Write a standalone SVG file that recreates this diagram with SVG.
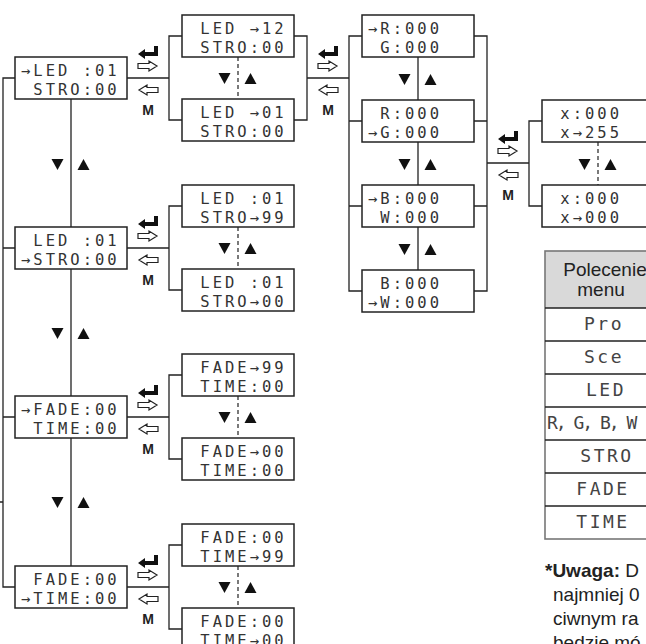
<svg xmlns="http://www.w3.org/2000/svg" xmlns:xlink="http://www.w3.org/1999/xlink" width="646" height="644" viewBox="0 0 646 644">
<style>
.box{fill:#fff;stroke:#222;stroke-width:1.5}
.ln{stroke:#222;stroke-width:1.3;fill:none}
.dash{stroke:#333;stroke-width:1.3;stroke-dasharray:4 3;fill:none}
.lcd{font-family:"DejaVu Sans Mono",monospace;font-size:15.5px;letter-spacing:3px;fill:#333;white-space:pre}
.m{font-family:"Liberation Sans",Arial,sans-serif;font-weight:bold;font-size:14px;text-anchor:middle;fill:#222}
.hol{fill:#fff;stroke:#222;stroke-width:1.2}
.tri{fill:#111}
.th{font-family:"Liberation Sans",Arial,sans-serif;font-size:19px;text-anchor:middle;fill:#222}
.tl{font-family:"DejaVu Sans Mono",monospace;font-size:18px;letter-spacing:2.5px;text-anchor:middle;fill:#444}
.note{font-family:"Liberation Sans",Arial,sans-serif;font-size:19px;fill:#222}
</style>
<defs>
<g id="icons">
<path d="M6,-32 H10 V-22 H-3 V-19 L-10,-24 L-3,-29 V-26 H6 Z" fill="#111"/>
<path class="hol" d="M-10,-14.5 H1 V-17 L9,-12 L1,-7 V-9.5 H-10 Z"/>
<path class="hol" d="M10,9.5 H-1 V7 L-9,12 L-1,17 V14.5 H10 Z"/>
<text class="m" x="0" y="37">M</text>
</g>
<g id="ud">
<path class="tri" d="M-19.5,-5 H-7.5 L-13.5,6 Z"/>
<path class="tri" d="M6.5,6 H18.5 L12.5,-5 Z"/>
</g>
</defs>

<g id="connectors">
<path class="ln" d="M15,78 H3 V587 H15 M3,248 H15 M3,417 H15 M-2,502 H3"/>
<path class="ln" d="M71,99 V227 M71,269 V396 M71,438 V566"/>
<path class="ln" d="M127,78 H169 M182,36 H169 V120 H182"/>
<path class="ln" d="M127,248 H169 M182,206 H169 V290 H182"/>
<path class="ln" d="M127,417 H169 M182,375 H169 V459 H182"/>
<path class="ln" d="M127,587 H169 M182,545 H169 V629 H182"/>
<path class="dash" d="M238,57 V99 M238,227 V269 M238,396 V438 M238,566 V608"/>
<path class="ln" d="M294,36 H307 V120 H294 M307,78 H349 M362,36 H349 V291 H362 M349,121 H362 M349,206 H362"/>
<path class="ln" d="M418,57 V100 M418,142 V185 M418,227 V270"/>
<path class="ln" d="M474,36 H487 V291 H474 M474,121 H487 M474,206 H487 M487,163 H529 M542,121 H529 V206 H542"/>
<path class="dash" d="M598,142 V185"/>
<use href="#icons" x="148" y="78"/>
<use href="#icons" x="148" y="248"/>
<use href="#icons" x="148" y="417"/>
<use href="#icons" x="148" y="587"/>
<use href="#icons" x="328" y="78"/>
<use href="#icons" x="508" y="163"/>
<use href="#ud" x="71" y="164"/>
<use href="#ud" x="71" y="333"/>
<use href="#ud" x="71" y="502"/>
<use href="#ud" x="238" y="78"/>
<use href="#ud" x="238" y="248"/>
<use href="#ud" x="238" y="417"/>
<use href="#ud" x="238" y="587"/>
<use href="#ud" x="418" y="79"/>
<use href="#ud" x="418" y="164"/>
<use href="#ud" x="418" y="249"/>
<use href="#ud" x="598" y="164"/>
</g>

<g id="led-main"><rect class="box" x="15" y="57" width="112" height="42"/><text class="lcd" x="21" y="76" xml:space="preserve">→LED :01</text><text class="lcd" x="21" y="94.5" xml:space="preserve"> STRO:00</text></g>
<g id="stro-main"><rect class="box" x="15" y="227" width="112" height="42"/><text class="lcd" x="21" y="246" xml:space="preserve"> LED :01</text><text class="lcd" x="21" y="264.5" xml:space="preserve">→STRO:00</text></g>
<g id="fade-main"><rect class="box" x="15" y="396" width="112" height="42"/><text class="lcd" x="21" y="415" xml:space="preserve">→FADE:00</text><text class="lcd" x="21" y="433.5" xml:space="preserve"> TIME:00</text></g>
<g id="time-main"><rect class="box" x="15" y="566" width="112" height="42"/><text class="lcd" x="21" y="585" xml:space="preserve"> FADE:00</text><text class="lcd" x="21" y="603.5" xml:space="preserve">→TIME:00</text></g>

<g id="led-12"><rect class="box" x="182" y="15" width="112" height="42"/><text class="lcd" x="188" y="34" xml:space="preserve"> LED →12</text><text class="lcd" x="188" y="52.5" xml:space="preserve"> STRO:00</text></g>
<g id="led-01"><rect class="box" x="182" y="99" width="112" height="42"/><text class="lcd" x="188" y="118" xml:space="preserve"> LED →01</text><text class="lcd" x="188" y="136.5" xml:space="preserve"> STRO:00</text></g>
<g id="stro-99"><rect class="box" x="182" y="185" width="112" height="42"/><text class="lcd" x="188" y="204" xml:space="preserve"> LED :01</text><text class="lcd" x="188" y="222.5" xml:space="preserve"> STRO→99</text></g>
<g id="stro-00"><rect class="box" x="182" y="269" width="112" height="42"/><text class="lcd" x="188" y="288" xml:space="preserve"> LED :01</text><text class="lcd" x="188" y="306.5" xml:space="preserve"> STRO→00</text></g>
<g id="fade-99"><rect class="box" x="182" y="354" width="112" height="42"/><text class="lcd" x="188" y="373" xml:space="preserve"> FADE→99</text><text class="lcd" x="188" y="391.5" xml:space="preserve"> TIME:00</text></g>
<g id="fade-00"><rect class="box" x="182" y="438" width="112" height="42"/><text class="lcd" x="188" y="457" xml:space="preserve"> FADE→00</text><text class="lcd" x="188" y="475.5" xml:space="preserve"> TIME:00</text></g>
<g id="time-99"><rect class="box" x="182" y="524" width="112" height="42"/><text class="lcd" x="188" y="543" xml:space="preserve"> FADE:00</text><text class="lcd" x="188" y="561.5" xml:space="preserve"> TIME→99</text></g>
<g id="time-00"><rect class="box" x="182" y="608" width="112" height="42"/><text class="lcd" x="188" y="627" xml:space="preserve"> FADE:00</text><text class="lcd" x="188" y="645.5" xml:space="preserve"> TIME→00</text></g>

<g id="r"><rect class="box" x="362" y="15" width="112" height="42"/><text class="lcd" x="368" y="34" xml:space="preserve">→R:000</text><text class="lcd" x="368" y="52.5" xml:space="preserve"> G:000</text></g>
<g id="g"><rect class="box" x="362" y="100" width="112" height="42"/><text class="lcd" x="368" y="119" xml:space="preserve"> R:000</text><text class="lcd" x="368" y="137.5" xml:space="preserve">→G:000</text></g>
<g id="b"><rect class="box" x="362" y="185" width="112" height="42"/><text class="lcd" x="368" y="204" xml:space="preserve">→B:000</text><text class="lcd" x="368" y="222.5" xml:space="preserve"> W:000</text></g>
<g id="w"><rect class="box" x="362" y="270" width="112" height="42"/><text class="lcd" x="368" y="289" xml:space="preserve"> B:000</text><text class="lcd" x="368" y="307.5" xml:space="preserve">→W:000</text></g>

<g id="x-255"><rect class="box" x="542" y="100" width="112" height="42"/><text class="lcd" x="548" y="119" xml:space="preserve"> x:000</text><text class="lcd" x="548" y="137.5" xml:space="preserve"> x→255</text></g>
<g id="x-000"><rect class="box" x="542" y="185" width="112" height="42"/><text class="lcd" x="548" y="204" xml:space="preserve"> x:000</text><text class="lcd" x="548" y="222.5" xml:space="preserve"> x→000</text></g>

<g id="table">
<rect x="545" y="251" width="120" height="57" fill="#d9d9d9"/>
<rect x="545" y="251" width="120" height="288" fill="none" stroke="#777" stroke-width="1.6"/>
<path class="ln" d="M545,308 H665 M545,341 H665 M545,374 H665 M545,407 H665 M545,440 H665 M545,473 H665 M545,506 H665"/>
<text class="th" x="605" y="276">Polecenie</text>
<text class="th" x="601" y="296">menu</text>
<text class="tl" x="604" y="330">Pro</text>
<text class="tl" x="604" y="363">Sce</text>
<text class="tl" x="606" y="396">LED</text>
<text class="tl" x="547" y="429" text-anchor="start" style="text-anchor:start;letter-spacing:-2px">R, G, B, W</text>
<text class="tl" x="607" y="462">STRO</text>
<text class="tl" x="603" y="495">FADE</text>
<text class="tl" x="603" y="528">TIME</text>
</g>

<g id="note">
<text class="note" x="545" y="577"><tspan font-weight="bold">*Uwaga:</tspan> D</text>
<text class="note" x="553" y="601">najmniej 0</text>
<text class="note" x="553" y="625">ciwnym ra</text>
<text class="note" x="553" y="649">bedzie mó</text>
</g>
</svg>
